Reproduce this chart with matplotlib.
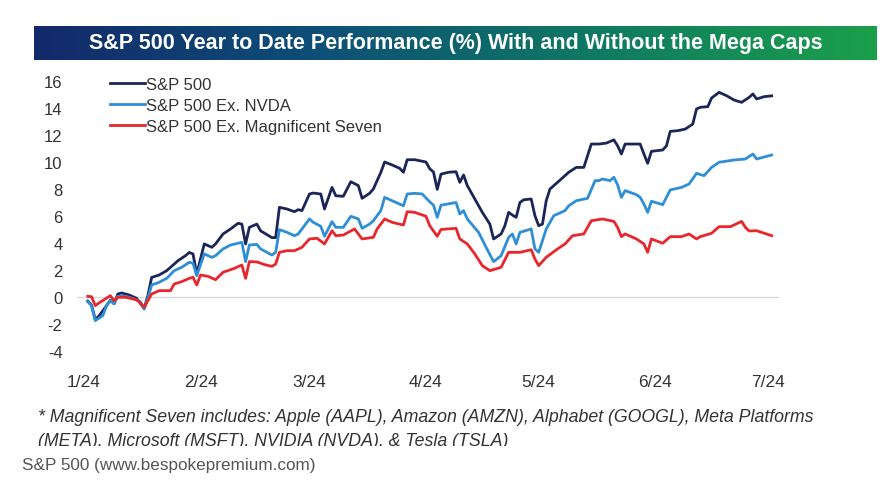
import numpy as np
import pandas as pd
import matplotlib
matplotlib.use("Agg")
import matplotlib.pyplot as plt
import matplotlib.dates as mdates
from matplotlib.ticker import FuncFormatter
from matplotlib.lines import Line2D
from matplotlib.patches import Rectangle

plt.rcParams["font.family"] = ["Liberation Sans", "DejaVu Sans"]
plt.rcParams["axes.unicode_minus"] = False

# S&P 500 YTD %
sp_dates = [
    "2024-01-02", "2024-01-03", "2024-01-04", "2024-01-05", "2024-01-07", "2024-01-08",
    "2024-01-09", "2024-01-10", "2024-01-11", "2024-01-13", "2024-01-15", "2024-01-17",
    "2024-01-18", "2024-01-19", "2024-01-21", "2024-01-23", "2024-01-25", "2024-01-26",
    "2024-01-28", "2024-01-29", "2024-01-30", "2024-01-31", "2024-02-02", "2024-02-04",
    "2024-02-05", "2024-02-07", "2024-02-09", "2024-02-11", "2024-02-12", "2024-02-13",
    "2024-02-14", "2024-02-16", "2024-02-17", "2024-02-20", "2024-02-21", "2024-02-22",
    "2024-02-24", "2024-02-26", "2024-02-27", "2024-02-28", "2024-03-01", "2024-03-02",
    "2024-03-04", "2024-03-05", "2024-03-07", "2024-03-08", "2024-03-10", "2024-03-12",
    "2024-03-14", "2024-03-15", "2024-03-17", "2024-03-18", "2024-03-20", "2024-03-21",
    "2024-03-23", "2024-03-25", "2024-03-26", "2024-03-27", "2024-03-29", "2024-04-01",
    "2024-04-02", "2024-04-03", "2024-04-04", "2024-04-05", "2024-04-07", "2024-04-09",
    "2024-04-10", "2024-04-11", "2024-04-12", "2024-04-14", "2024-04-16", "2024-04-18",
    "2024-04-19", "2024-04-21", "2024-04-22", "2024-04-23", "2024-04-24", "2024-04-25",
    "2024-04-26", "2024-04-27", "2024-04-29", "2024-04-30", "2024-05-01", "2024-05-02",
    "2024-05-03", "2024-05-04", "2024-05-06", "2024-05-08", "2024-05-09", "2024-05-11",
    "2024-05-13", "2024-05-15", "2024-05-17", "2024-05-19", "2024-05-21", "2024-05-22",
    "2024-05-23", "2024-05-24", "2024-05-26", "2024-05-28", "2024-05-29", "2024-05-30",
    "2024-05-31", "2024-06-03", "2024-06-04", "2024-06-05", "2024-06-07", "2024-06-09",
    "2024-06-11", "2024-06-12", "2024-06-13", "2024-06-15", "2024-06-16", "2024-06-18",
    "2024-06-20", "2024-06-22", "2024-06-24", "2024-06-26", "2024-06-27", "2024-06-28",
    "2024-06-30", "2024-07-02",
]
sp_vals = [
    -0.3, -0.6, -1.68, -1.4, -0.64, -0.24,
    -0.5, 0.22, 0.3, 0.15, -0.1, -0.85,
    0.1, 1.45, 1.63, 1.95, 2.44, 2.69,
    3.06, 3.3, 3.19, 1.7, 3.93, 3.68,
    3.93, 4.67, 5.04, 5.46, 5.4, 3.93,
    5.16, 5.4, 4.9, 4.4, 4.4, 6.64,
    6.52, 6.32, 6.47, 6.4, 7.63, 7.7,
    7.63, 6.52, 8.12, 7.5, 7.46, 8.54,
    8.25, 7.31, 7.68, 8.0, 9.24, 10.0,
    9.78, 9.53, 9.24, 10.17, 10.17, 10.0,
    9.5, 9.26, 7.97, 9.1, 9.24, 9.28,
    8.49, 9.04, 8.25, 7.26, 6.27, 5.4,
    4.3, 4.67, 5.28, 6.27, 6.07, 5.9,
    7.0, 7.2, 7.26, 6.02, 5.28, 5.4,
    7.13, 8.0, 8.49, 8.99, 9.24, 9.6,
    9.6, 11.33, 11.33, 11.4, 11.64, 11.2,
    10.59, 11.33, 11.33, 11.33, 10.59, 9.9,
    10.79, 10.89, 11.2, 12.27, 12.32, 12.44,
    12.81, 13.93, 14.05, 14.1, 14.74, 15.16,
    14.91, 14.59, 14.42, 14.79, 15.04, 14.67,
    14.84, 14.9,
]

# S&P 500 ex. NVDA
nvda_dates = [
    "2024-01-02", "2024-01-03", "2024-01-04", "2024-01-06", "2024-01-07", "2024-01-08",
    "2024-01-09", "2024-01-10", "2024-01-12", "2024-01-14", "2024-01-16", "2024-01-17",
    "2024-01-18", "2024-01-19", "2024-01-21", "2024-01-23", "2024-01-25", "2024-01-27",
    "2024-01-29", "2024-01-30", "2024-01-31", "2024-02-02", "2024-02-04", "2024-02-05",
    "2024-02-07", "2024-02-09", "2024-02-12", "2024-02-13", "2024-02-14", "2024-02-16",
    "2024-02-17", "2024-02-20", "2024-02-21", "2024-02-22", "2024-02-24", "2024-02-26",
    "2024-02-27", "2024-03-01", "2024-03-02", "2024-03-04", "2024-03-05", "2024-03-07",
    "2024-03-08", "2024-03-10", "2024-03-12", "2024-03-14", "2024-03-15", "2024-03-17",
    "2024-03-18", "2024-03-20", "2024-03-21", "2024-03-23", "2024-03-26", "2024-03-27",
    "2024-03-29", "2024-03-31", "2024-04-02", "2024-04-03", "2024-04-04", "2024-04-05",
    "2024-04-09", "2024-04-10", "2024-04-11", "2024-04-12", "2024-04-15", "2024-04-17",
    "2024-04-19", "2024-04-21", "2024-04-23", "2024-04-24", "2024-04-25", "2024-04-26",
    "2024-04-29", "2024-04-30", "2024-05-01", "2024-05-03", "2024-05-05", "2024-05-08",
    "2024-05-09", "2024-05-11", "2024-05-14", "2024-05-16", "2024-05-17", "2024-05-18",
    "2024-05-20", "2024-05-21", "2024-05-22", "2024-05-23", "2024-05-24", "2024-05-27",
    "2024-05-28", "2024-05-29", "2024-05-30", "2024-05-31", "2024-06-03", "2024-06-05",
    "2024-06-08", "2024-06-10", "2024-06-12", "2024-06-14", "2024-06-16", "2024-06-18",
    "2024-06-22", "2024-06-25", "2024-06-27", "2024-06-28", "2024-07-02",
]
nvda_vals = [
    -0.35, -0.64, -1.75, -1.38, -0.64, -0.27,
    -0.5, 0.05, 0.05, -0.1, -0.35, -0.9,
    -0.1, 0.89, 1.09, 1.38, 1.95, 2.2,
    2.57, 2.5, 1.58, 3.19, 2.94, 3.06,
    3.56, 3.85, 4.05, 2.62, 3.85, 3.9,
    3.56, 3.11, 3.31, 4.99, 4.79, 4.54,
    4.67, 5.78, 5.53, 5.24, 4.5, 5.58,
    5.16, 5.16, 5.98, 5.78, 5.09, 5.4,
    5.65, 6.4, 7.38, 7.13, 6.76, 7.63,
    7.68, 7.63, 7.05, 6.8, 5.9, 6.8,
    7.0, 6.15, 6.4, 5.78, 4.79, 3.68,
    2.62, 3.06, 4.42, 4.67, 3.93, 4.79,
    5.04, 3.56, 3.31, 5.04, 6.02, 6.4,
    6.76, 7.13, 7.31, 8.62, 8.62, 8.74,
    8.62, 8.87, 8.3, 7.38, 7.88, 7.58,
    7.38, 6.89, 6.27, 7.09, 6.84, 7.93,
    8.12, 8.37, 9.16, 8.99, 9.6, 9.98,
    10.15, 10.22, 10.59, 10.22, 10.52,
]

# S&P 500 ex. Magnificent Seven
mag7_dates = [
    "2024-01-02", "2024-01-03", "2024-01-04", "2024-01-05", "2024-01-08", "2024-01-09",
    "2024-01-10", "2024-01-12", "2024-01-15", "2024-01-16", "2024-01-17", "2024-01-19",
    "2024-01-21", "2024-01-24", "2024-01-25", "2024-01-27", "2024-01-29", "2024-01-30",
    "2024-01-31", "2024-02-01", "2024-02-03", "2024-02-05", "2024-02-07", "2024-02-10",
    "2024-02-12", "2024-02-13", "2024-02-14", "2024-02-16", "2024-02-18", "2024-02-20",
    "2024-02-21", "2024-02-22", "2024-02-24", "2024-02-26", "2024-02-28", "2024-03-01",
    "2024-03-03", "2024-03-05", "2024-03-07", "2024-03-08", "2024-03-10", "2024-03-13",
    "2024-03-15", "2024-03-18", "2024-03-19", "2024-03-21", "2024-03-23", "2024-03-26",
    "2024-03-27", "2024-03-29", "2024-04-01", "2024-04-02", "2024-04-04", "2024-04-05",
    "2024-04-09", "2024-04-10", "2024-04-12", "2024-04-14", "2024-04-16", "2024-04-18",
    "2024-04-21", "2024-04-23", "2024-04-26", "2024-04-29", "2024-04-30", "2024-05-01",
    "2024-05-03", "2024-05-06", "2024-05-08", "2024-05-10", "2024-05-13", "2024-05-15",
    "2024-05-18", "2024-05-21", "2024-05-22", "2024-05-23", "2024-05-24", "2024-05-27",
    "2024-05-29", "2024-05-30", "2024-05-31", "2024-06-03", "2024-06-05", "2024-06-08",
    "2024-06-10", "2024-06-12", "2024-06-13", "2024-06-16", "2024-06-18", "2024-06-21",
    "2024-06-24", "2024-06-25", "2024-06-26", "2024-06-28", "2024-07-02",
]
mag7_vals = [
    0.05, 0.02, -0.64, -0.44, 0.1, -0.27,
    -0.02, -0.02, -0.2, -0.44, -0.76, 0.22,
    0.47, 0.47, 0.96, 1.14, 1.38, 1.46,
    0.89, 1.63, 1.53, 1.28, 1.83, 2.12,
    2.37, 1.38, 2.62, 2.6, 2.4, 2.27,
    2.44, 3.31, 3.43, 3.43, 3.68, 4.3,
    4.35, 3.93, 4.91, 4.54, 4.59, 5.04,
    4.3, 4.42, 5.04, 5.78, 5.53, 5.33,
    6.32, 6.27, 5.98, 5.28, 4.5, 5.0,
    5.09, 4.3, 3.93, 3.19, 2.32, 1.95,
    2.2, 3.31, 3.31, 3.5, 2.81, 2.32,
    2.94, 3.56, 3.93, 4.54, 4.67, 5.65,
    5.78, 5.6, 5.16, 4.47, 4.67, 4.3,
    3.93, 3.31, 4.3, 3.98, 4.47, 4.47,
    4.67, 4.3, 4.47, 4.72, 5.21, 5.21,
    5.6, 5.16, 4.89, 4.91, 4.54,
]

series_names = ["S&P 500", "S&P 500 Ex. NVDA", "S&P 500 Ex. Magnificent Seven"]
series_colors = ["#1c2557", "#2f8fd6", "#e8262b"]

title = "S&P 500 Year to Date Performance (%) With and Without the Mega Caps"
footnote = ("* Magnificent Seven includes: Apple (AAPL), Amazon (AMZN), Alphabet (GOOGL), Meta Platforms\n"
            "(META), Microsoft (MSFT), NVIDIA (NVDA), & Tesla (TSLA)")
source = "S&P 500 (www.bespokepremium.com)"

W, H = 894, 485
fig = plt.figure(figsize=(W / 100, H / 100), dpi=100)
fig.patch.set_facecolor("white")

# title bar with navy -> green gradient
tb = fig.add_axes([34 / W, 1 - 61 / H, (877 - 34) / W, 34 / H])
grad = np.linspace(0, 1, 256).reshape(1, -1)
cmap = matplotlib.colors.LinearSegmentedColormap.from_list(
    "bar", ["#13296a", "#0d4f78", "#0f7a62", "#1b9f4a"])
tb.imshow(grad, aspect="auto", cmap=cmap, extent=[0, 1, 0, 1])
tb.set_axis_off()
tb.text(0.5, 0.5, title, color="white", fontsize=15.5, fontweight="bold",
        ha="center", va="center", transform=tb.transAxes)

# main plot
ax = fig.add_axes([76.5 / W, 1 - 358.75 / H, (779.2 - 76.5) / W, (358.75 - 75.25) / H])
all_dates = [sp_dates, nvda_dates, mag7_dates]
all_vals = [sp_vals, nvda_vals, mag7_vals]
for d, v, name, c in zip(all_dates, all_vals, series_names, series_colors):
    ax.plot(pd.to_datetime(d), v, color=c, lw=2.0, label=name, zorder=3)

ax.axhline(0, color="#d9d9d9", lw=1, zorder=1)
ax.set_ylim(-4.5, 16.5)
ax.set_yticks(np.arange(-4, 17, 2))
ax.set_xlim(pd.Timestamp("2023-12-30"), pd.Timestamp("2024-07-04"))
ax.xaxis.set_major_locator(mdates.MonthLocator())
ax.xaxis.set_major_formatter(FuncFormatter(
    lambda v, p: f"{mdates.num2date(v).month}/{mdates.num2date(v):%y}"))
for s in ax.spines.values():
    s.set_visible(False)
ax.tick_params(axis="y", length=0, pad=10, labelsize=12, labelcolor="#333333")
ax.tick_params(axis="x", length=0, pad=12, labelsize=12.5, labelcolor="#333333")

handles = [Line2D([0], [0], color=c, lw=2.0) for c in series_colors]
ax.legend(handles, series_names, loc="upper left", bbox_to_anchor=(0.038, 1.015),
          frameon=False, fontsize=12, handlelength=2.1, handletextpad=0.05,
          labelspacing=0.36, borderaxespad=0, labelcolor="#333333")

# footnote
fig.text(38 / W, 1 - 409 / H, footnote, fontsize=12.8, style="italic", color="#333333",
         va="top", ha="left", linespacing=1.55)
# the source image cuts the second footnote line off at the bottom
fig.add_artist(Rectangle((0, 1 - 455 / H), 1, 8 / H, transform=fig.transFigure,
                         facecolor="white", edgecolor="none", zorder=5))

fig.text(22 / W, 1 - 466 / H, source, fontsize=12.3, color="#555555",
         va="center", ha="left", zorder=6)

fig.savefig("out.png", dpi=100)
